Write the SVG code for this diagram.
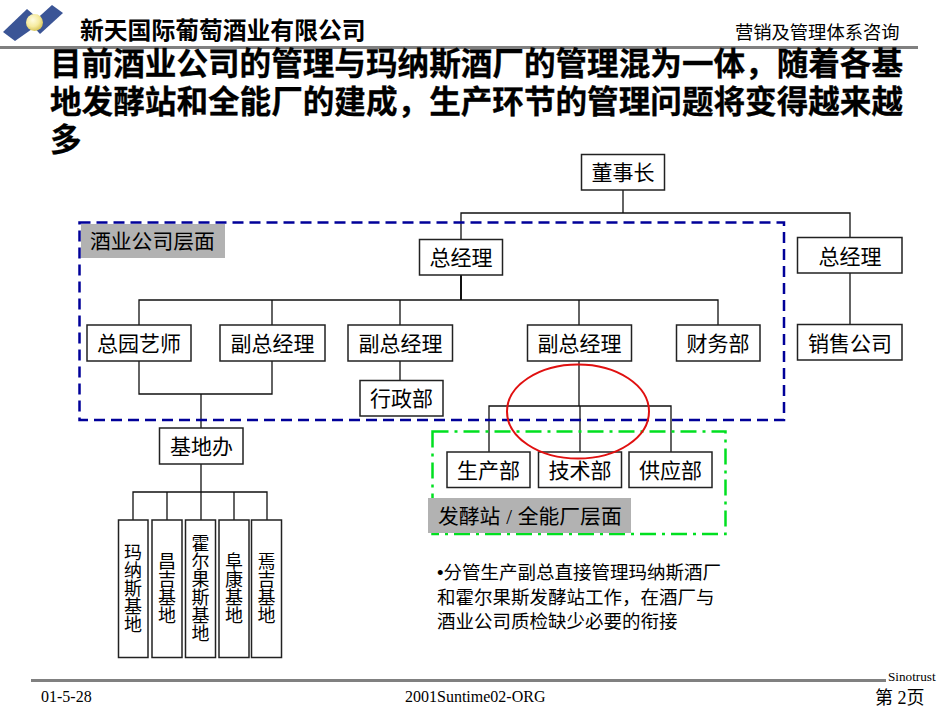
<svg xmlns="http://www.w3.org/2000/svg" width="950" height="713" viewBox="0 0 950 713">
<style>
text{font-family:"Liberation Sans","Noto Sans CJK SC",sans-serif;fill:#000}
.b{fill:#fff;stroke:#222;stroke-width:1.5}
.l{font-size:21px;text-anchor:middle}
.v{font-size:18px;text-anchor:middle;writing-mode:vertical-rl;text-orientation:upright}
.t{font-size:31.6px;font-weight:700;stroke:#000;stroke-width:.3}
.n{font-size:18.5px}
.s{font-family:"Liberation Serif","Noto Sans CJK SC",serif}
.c{fill:none;stroke:#111;stroke-width:1.3}
.g{fill:#b2b2b2}
</style>
<defs>
<radialGradient id="ball" cx="0.4" cy="0.35" r="0.7"><stop offset="0" stop-color="#fffce0"/><stop offset="0.55" stop-color="#f6eba0"/><stop offset="1" stop-color="#d4c050"/></radialGradient>
</defs>
<rect width="950" height="713" fill="#fff"/>
<g id="logo">
<polygon points="3,32 27,9 42,22 15,41" fill="#3b5596"/>
<polygon points="52,5 63,13 40,34 31,24" fill="#3b5596"/>
<circle cx="34.500" cy="22.500" r="8.500" fill="url(#ball)"/>
</g>
<rect x="0" y="46" width="918" height="3" fill="#808080"/>
<text x="80" y="39" font-size="23.8" font-weight="700">新天国际葡萄酒业有限公司</text>
<text x="735" y="39" font-size="18.3">营销及管理体系咨询</text>
<text class="t" x="50" y="75">目前酒业公司的管理与玛纳斯酒厂的管理混为一体，随着各基</text>
<text class="t" x="50" y="113">地发酵站和全能厂的建成，生产环节的管理问题将变得越来越</text>
<text class="t" x="50" y="151">多</text>

<g id="labels">
<rect class="g" x="81" y="224" width="144" height="34"/>
<text x="90" y="249" font-size="20.8">酒业公司层面</text>
</g>
<g id="connectors">
<path class="c" d="M623 190V213M461 239V213H850V237M850 273V325"/>
<path class="c" d="M461 275V300" style="stroke-width:2"/>
<path class="c" d="M139 325V300H718V325M272 300V325M400 300V325M579 300V325"/>
<path class="c" d="M139 361V394H272V361M201 394V428M400 361V380"/>
<path class="c" d="M579 361V406M489 452V406H671V452M580 406V452"/>
<path class="c" d="M201 464V492M133 520V492H267V520M167 492V520M201 492V520M234 492V520"/>
</g>
<rect x="79.500" y="222.500" width="704.500" height="197.500" fill="none" stroke="#000099" stroke-width="2.500" stroke-dasharray="11 6"/>
<rect x="432.500" y="431.500" width="293" height="102.500" fill="none" stroke="#00e020" stroke-width="2.500" stroke-dasharray="16 6 3 6"/>

<g id="n1"><rect class="b" x="581.500" y="154.500" width="83" height="35.500"/><text class="l" x="623" y="180">董事长</text></g>
<g id="n2"><rect class="b" x="419.500" y="239.500" width="83" height="35.500"/><text class="l" x="461" y="265">总经理</text></g>
<g id="n3"><rect class="b" x="797.500" y="237.500" width="104.500" height="35.500"/><text class="l" x="850" y="264">总经理</text></g>
<g id="n4"><rect class="b" x="797.500" y="324.500" width="104.500" height="35.500"/><text class="l" x="850" y="351">销售公司</text></g>
<g id="n5"><rect class="b" x="87" y="325" width="104" height="36"/><text class="l" x="139" y="351">总园艺师</text></g>
<g id="n6"><rect class="b" x="220" y="325" width="105" height="36"/><text class="l" x="272.500" y="351">副总经理</text></g>
<g id="n7"><rect class="b" x="348" y="325" width="104.500" height="36"/><text class="l" x="400.500" y="351">副总经理</text></g>
<g id="n8"><rect class="b" x="527.500" y="325" width="104" height="36"/><text class="l" x="579.500" y="351">副总经理</text></g>
<g id="n9"><rect class="b" x="676.500" y="325" width="83.500" height="36"/><text class="l" x="718" y="351">财务部</text></g>
<g id="n10"><rect class="b" x="360" y="380.500" width="83" height="35.500"/><text class="l" x="401.500" y="406">行政部</text></g>
<g id="n11"><rect class="b" x="159.500" y="428" width="83.500" height="36"/><text class="l" x="201.500" y="454">基地办</text></g>
<g id="n12"><rect class="b" x="447" y="452" width="83" height="35.500"/><text class="l" x="488.500" y="478">生产部</text></g>
<g id="n13"><rect class="b" x="538.500" y="452" width="83" height="35.500"/><text class="l" x="580" y="478">技术部</text></g>
<g id="n14"><rect class="b" x="629" y="452" width="83" height="35.500"/><text class="l" x="670.500" y="478">供应部</text></g>

<g id="labels2">
<rect class="g" x="428" y="498" width="203" height="35"/>
<text x="438" y="524" font-size="20.800">发酵站 <tspan font-family="Liberation Serif">/</tspan> 全能厂层面</text>
</g>
<ellipse cx="578" cy="411.500" rx="71" ry="47" fill="none" stroke="#e01010" stroke-width="2"/>

<g id="v1"><rect class="b" x="118.500" y="520" width="29.500" height="137.500"/><text class="v" x="131" y="588">玛纳斯基地</text></g>
<g id="v2"><rect class="b" x="152" y="520" width="30" height="137.500"/><text class="v" x="165" y="588">昌吉基地</text></g>
<g id="v3"><rect class="b" x="185.500" y="520" width="30" height="137.500"/><text class="v" x="198.500" y="588">霍尔果斯基地</text></g>
<g id="v4"><rect class="b" x="219" y="520" width="30" height="137.500"/><text class="v" x="232" y="588">阜康基地</text></g>
<g id="v5"><rect class="b" x="251.500" y="520" width="30" height="137.500"/><text class="v" x="264.500" y="588">焉吉基地</text></g>

<g id="note">
<text class="n" x="437" y="579">•分管生产副总直接管理玛纳斯酒厂</text>
<text class="n" x="437" y="604">和霍尔果斯发酵站工作，在酒厂与</text>
<text class="n" x="437" y="628">酒业公司质检缺少必要的衔接</text>
</g>

<rect x="31" y="679" width="855" height="3" fill="#808080"/>
<text class="s" x="888" y="681" font-size="13.200">Sinotrust</text>
<text class="s" x="41" y="702" font-size="16">01-5-28</text>
<text class="s" x="405" y="702" font-size="16">2001Suntime02-ORG</text>
<text class="s" x="875" y="704" font-size="18">第 2页</text>
</svg>
